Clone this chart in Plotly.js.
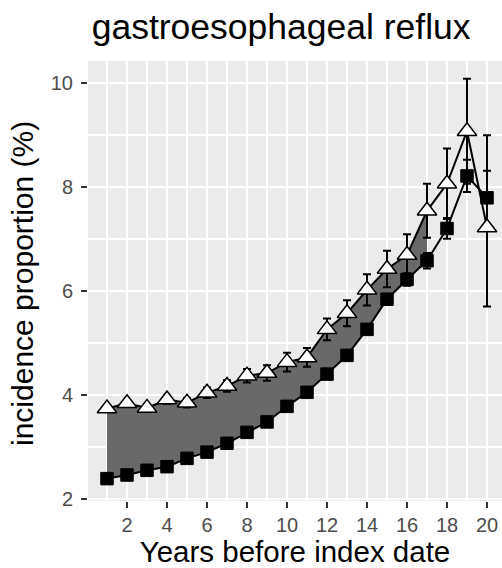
<!DOCTYPE html>
<html>
<head>
<meta charset="utf-8">
<script src="https://cdn.plot.ly/plotly-3.0.1.min.js"></script>
<style>html,body{margin:0;padding:0;background:#fff;}#chart{width:502px;height:568px;}</style>
</head>
<body>
<div id="chart"></div>
<script>
var years = [1,2,3,4,5,6,7,8,9,10,11,12,13,14,15,16,17,18,19,20];
var triValues = [3.74,3.84,3.75,3.91,3.85,4.04,4.17,4.37,4.42,4.63,4.72,5.26,5.57,6.02,6.42,6.69,7.54,8.06,9.07,7.22];
var triErrPlus = [0.06,0.06,0.07,0.08,0.09,0.10,0.11,0.13,0.15,0.18,0.18,0.21,0.25,0.30,0.35,0.40,0.52,0.68,1.01,1.77];
var triErrMinus = [0.06,0.06,0.07,0.08,0.09,0.10,0.11,0.13,0.15,0.18,0.18,0.21,0.25,0.30,0.35,0.40,0.52,0.68,1.01,1.52];
var sqValues = [2.39,2.46,2.55,2.62,2.78,2.90,3.07,3.28,3.48,3.78,4.05,4.40,4.76,5.26,5.84,6.22,6.58,7.20,8.21,7.79];
var sqErr = [0.03,0.03,0.04,0.04,0.04,0.05,0.05,0.05,0.06,0.06,0.06,0.07,0.08,0.09,0.10,0.12,0.15,0.20,0.31,0.52];
var ribbonEnd = 17;
var xTickVals = [2,4,6,8,10,12,14,16,18,20];
var yTickVals = [2,4,6,8,10];

var rx = years.filter(function(y){return y <= ribbonEnd;});
var n = rx.length;

var traces = [
  {x: rx, y: sqValues.slice(0,n), type:'scatter', mode:'lines', line:{width:0, color:'rgba(0,0,0,0)'}, hoverinfo:'skip', showlegend:false},
  {x: rx, y: triValues.slice(0,n), type:'scatter', mode:'lines', line:{width:0, color:'rgba(0,0,0,0)'}, fill:'tonexty', fillcolor:'#696969', hoverinfo:'skip', showlegend:false},
  {x: years, y: sqValues, type:'scatter', mode:'lines+markers',
   line:{color:'#000', width:2},
   marker:{symbol:'square', size:12.5, color:'#000', line:{color:'#000', width:1}},
   error_y:{type:'data', array:sqErr, visible:true, color:'#000', thickness:2, width:4},
   showlegend:false},
  {x: years, y: triValues, type:'scatter', mode:'lines+markers',
   line:{color:'#000', width:2},
   marker:{symbol:'triangle-up', size:17, color:'#fff', line:{color:'#000', width:1.5}},
   error_y:{type:'data', symmetric:false, array:triErrPlus, arrayminus:triErrMinus, visible:true, color:'#000', thickness:2, width:4},
   showlegend:false}
];

var layout = {
  width:502, height:568,
  margin:{l:88, r:0, t:61, b:67},
  paper_bgcolor:'#fff', plot_bgcolor:'#ebebeb',
  font:{family:'Liberation Sans, Arial, sans-serif', color:'#000'},
  title:{text:'gastroesophageal reflux', font:{size:35.5, color:'#000'}, xref:'container', x:0.56, xanchor:'center', yref:'container', y:0.953, yanchor:'middle'},
  xaxis:{range:[0.05,20.75], tickvals:xTickVals, ticktext:xTickVals.map(String),
    showgrid:true, gridcolor:'#fff', gridwidth:2, zeroline:false, showline:false,
    ticks:'outside', ticklen:6, tickwidth:1.5, tickcolor:'#333',
    tickfont:{size:20, color:'#4d4d4d'},
    minor:{dtick:1, tick0:0, showgrid:true, gridcolor:'#fff', gridwidth:1.5, ticks:''},
    title:{text:'Years before index date', font:{size:29.5, color:'#000'}, standoff:2}},
  yaxis:{range:[1.96,10.42], tickvals:yTickVals, ticktext:yTickVals.map(String),
    showgrid:true, gridcolor:'#fff', gridwidth:2, zeroline:false, showline:false,
    ticks:'outside', ticklen:6, tickwidth:1.5, tickcolor:'#333', ticklabelstandoff:4,
    tickfont:{size:20, color:'#4d4d4d'},
    minor:{dtick:1, tick0:0, showgrid:true, gridcolor:'#fff', gridwidth:1.5, ticks:''}},
  annotations:[{text:'incidence proportion (%)', textangle:-90, font:{size:30, color:'#000'},
    xref:'paper', yref:'paper', x:(22-88)/414, y:(501-284)/440, xanchor:'center', yanchor:'middle', showarrow:false}]
};

Plotly.newPlot('chart', traces, layout, {displayModeBar:false, staticPlot:true});
</script>
</body>
</html>
